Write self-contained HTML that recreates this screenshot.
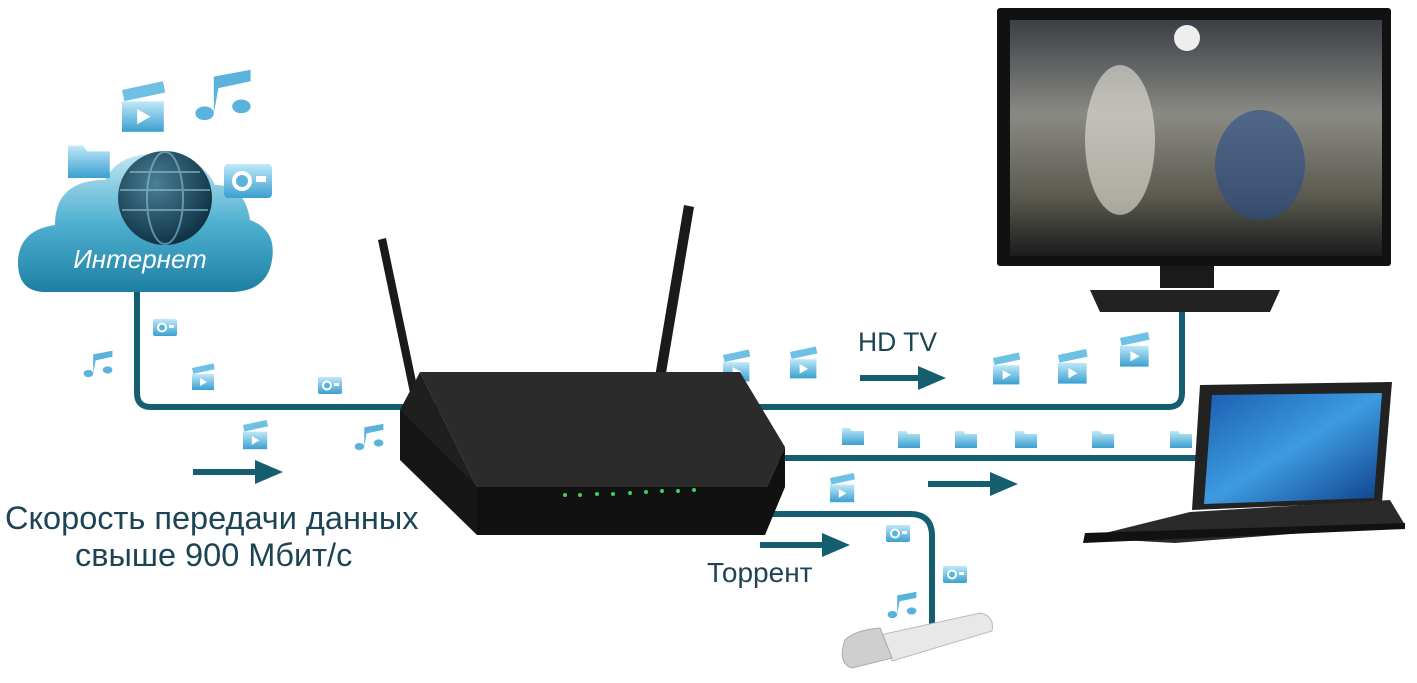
<!DOCTYPE html>
<html><head><meta charset="utf-8"><style>
html,body{margin:0;padding:0;background:#fff;width:1417px;height:683px;overflow:hidden}
svg{display:block}
</style></head><body>
<svg width="1417" height="683" viewBox="0 0 1417 683" xmlns="http://www.w3.org/2000/svg">
<defs>
<linearGradient id="cl" x1="0" y1="0" x2="0" y2="1"><stop offset="0" stop-color="#bfe6f3"/><stop offset="0.5" stop-color="#4fb0d0"/><stop offset="1" stop-color="#1d7fa3"/></linearGradient>
<radialGradient id="gl" cx="0.4" cy="0.35" r="0.7"><stop offset="0" stop-color="#4a7f95"/><stop offset="1" stop-color="#0c2e40"/></radialGradient>
<linearGradient id="sc" x1="0" y1="0" x2="0" y2="1"><stop offset="0" stop-color="#3a3f45"/><stop offset="0.4" stop-color="#8a8a84"/><stop offset="0.75" stop-color="#5b5a50"/><stop offset="1" stop-color="#1a1c1c"/></linearGradient>
<linearGradient id="lp" x1="0" y1="0" x2="1" y2="1"><stop offset="0" stop-color="#1a5fb0"/><stop offset="0.5" stop-color="#3e9be0"/><stop offset="1" stop-color="#0d3f8a"/></linearGradient>
<linearGradient id="ic" x1="0" y1="0" x2="0" y2="1"><stop offset="0" stop-color="#bfe8f8"/><stop offset="1" stop-color="#3a9fd0"/></linearGradient>
<g id="clap"><rect x="0" y="6" width="22" height="16" fill="url(#ic)"/><rect x="0" y="0" width="22" height="6" fill="#6ec0e4" transform="rotate(-12)"/><path d="M8 10l7 4-7 4z" fill="#fff"/></g>
<g id="fold"><path d="M0 3h8l2 3h12v14h-22z" fill="url(#ic)"/></g>
<g id="cam"><rect x="0" y="3" width="24" height="17" rx="2" fill="url(#ic)"/><circle cx="9" cy="11.5" r="5" fill="#fff"/><circle cx="9" cy="11.5" r="3" fill="#5ab3dc"/><rect x="16" y="9" width="5" height="3" fill="#fff"/></g>
<g id="note"><path d="M6 18a4 3 0 1 1 0-.1V2l16-3v16a4 3 0 1 1 0-.1V4L8 7z" fill="#5ab3dc"/></g>
</defs>

<g fill="none" stroke="#145e70" stroke-width="6" stroke-linecap="round">
<path d="M137 285V393q0 14 14 14H1168q14 0 14-14V312"/>
<path d="M780 458H1208"/>
<path d="M590 514H910q22 0 22 22V630"/>
</g>
<g fill="#145e70">
<path d="M193 469h62v-9l28 12-28 12v-9h-62z"/>
<path d="M860 375h58v-9l28 12-28 12v-9h-58z"/>
<path d="M928 481h62v-9l28 12-28 12v-9h-62z"/>
<path d="M760 542h62v-9l28 12-28 12v-9h-62z"/>
</g>

<g>
<path d="M45 292q-28 0-27-32 2-30 37-35 0-45 50-45 15-30 60-25 35 0 50 30 30 0 35 35 27 10 22 40-5 32-42 32z" fill="url(#cl)"/>
<circle cx="165" cy="198" r="47" fill="url(#gl)"/>
<g stroke="#8fc3d6" stroke-width="2" fill="none" opacity="0.6"><path d="M120 190h90M122 210h86M130 172h70"/><ellipse cx="165" cy="198" rx="18" ry="46"/></g>
<text x="140" y="268" text-anchor="middle" font-family="Liberation Sans,sans-serif" font-style="italic" font-size="26" fill="#fff">Интернет</text>
</g>

<use href="#clap" transform="translate(122,90) scale(1.9)"/>
<use href="#fold" transform="translate(68,140) scale(1.9)"/>
<use href="#note" transform="translate(200,72) scale(2.3)"/>
<use href="#cam" transform="translate(224,158) scale(2)"/>
<use href="#cam" transform="translate(153,316)"/>
<use href="#note" transform="translate(86,352) scale(1.2)"/>
<use href="#clap" transform="translate(192,368)"/>
<use href="#cam" transform="translate(318,374)"/>
<use href="#clap" transform="translate(243,425) scale(1.1)"/>
<use href="#note" transform="translate(357,425) scale(1.2)"/>
<use href="#clap" transform="translate(723,355) scale(1.2)"/>
<use href="#clap" transform="translate(790,352) scale(1.2)"/>
<use href="#clap" transform="translate(993,358) scale(1.2)"/>
<use href="#clap" transform="translate(1058,355) scale(1.3)"/>
<use href="#clap" transform="translate(1120,338) scale(1.3)"/>
<use href="#fold" transform="translate(842,425)"/>
<use href="#fold" transform="translate(898,428)"/>
<use href="#fold" transform="translate(955,428)"/>
<use href="#fold" transform="translate(1015,428)"/>
<use href="#fold" transform="translate(1092,428)"/>
<use href="#fold" transform="translate(1170,428)"/>
<use href="#clap" transform="translate(830,478) scale(1.1)"/>
<use href="#cam" transform="translate(886,522)"/>
<use href="#cam" transform="translate(943,563)"/>
<use href="#note" transform="translate(890,593) scale(1.2)"/>

<rect x="997" y="8" width="394" height="258" rx="3" fill="#111"/>
<rect x="1010" y="20" width="372" height="236" fill="url(#sc)"/>
<ellipse cx="1120" cy="140" rx="35" ry="75" fill="#e8e4dc" opacity="0.6"/>
<ellipse cx="1260" cy="165" rx="45" ry="55" fill="#2a4f8a" opacity="0.6"/>
<circle cx="1187" cy="38" r="13" fill="#eee"/>
<path d="M1160 266h54v22h-54z" fill="#1a1a1a"/>
<path d="M1090 290h190l-10 22h-170z" fill="#222"/>

<path d="M378 240l8-2 36 172-8 2z" fill="#1a1a1a"/>
<path d="M684 205l10 2-30 178-10-2z" fill="#1a1a1a"/>
<path d="M420 372h320l45 75-18 40h-290z" fill="#2b2b2b"/>
<path d="M400 410l20-38 57 115v45z" fill="#1f1f1f"/>
<path d="M477 487h290l18-40v40l-20 48h-288z" fill="#111"/>
<path d="M400 410l77 77v48l-77-75z" fill="#161616"/>
<g fill="#3fcf5a"><circle cx="565" cy="495" r="2"/><circle cx="580" cy="495" r="2"/><circle cx="597" cy="494" r="2"/><circle cx="613" cy="494" r="2"/><circle cx="630" cy="493" r="2"/><circle cx="646" cy="492" r="2"/><circle cx="662" cy="491" r="2"/><circle cx="678" cy="491" r="2"/><circle cx="694" cy="490" r="2"/></g>

<path d="M1200 385l192-3-10 120-190 8z" fill="#222"/>
<path d="M1212 395l170-2-8 105-170 6z" fill="url(#lp)"/>
<path d="M1190 512l200-12 15 25-230 18-90-5z" fill="#2a2a2a"/>
<path d="M1085 533l320-10v6l-322 14z" fill="#111"/>

<path d="M880 635l100-22q15 3 12 18l-100 30z" fill="#e8e8e8" stroke="#bbb"/>
<path d="M845 640q10-10 35-12l12 30-40 10q-15-5-7-28z" fill="#cfcfcf" stroke="#aaa"/>

<g font-family="Liberation Sans,sans-serif" fill="#1d4455">
<text x="858" y="351" font-size="26.5">HD TV</text>
<text x="5" y="529" font-size="32.5">Скорость передачи данных</text>
<text x="75" y="566" font-size="32.5">свыше 900 Мбит/с</text>
<text x="707" y="582" font-size="28">Торрент</text>
</g>
</svg>
</body></html>
